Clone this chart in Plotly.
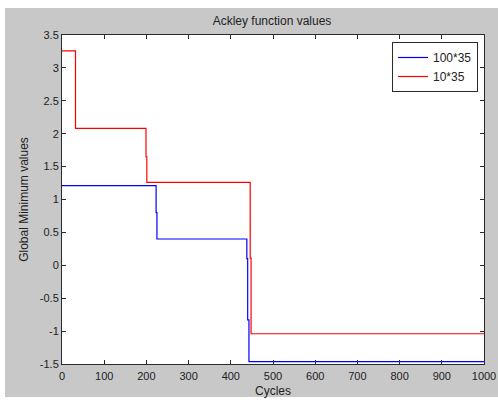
import plotly.graph_objects as go

# Data
red_x = [0, 32, 199, 201, 446, 448, 1000]
red_y = [3.26, 2.08, 1.65, 1.26, 0.11, -1.04, -1.04]
blue_x = [0, 223, 225, 438, 440, 443, 1000]
blue_y = [1.21, 0.80, 0.40, 0.10, -0.83, -1.465, -1.465]
x_ticks = list(range(0, 1001, 100))
y_ticks = [-1.5, -1, -0.5, 0, 0.5, 1, 1.5, 2, 2.5, 3, 3.5]
y_ticklabels = ["-1.5", "-1", "-0.5", "0", "0.5", "1", "1.5", "2", "2.5", "3", "3.5"]

W, H = 498, 400
SL, SR, ST, SB = 62, 484, 35, 364  # plot area in pixels
L, R, T, B = SL, W - SR, ST, H - SB
pw, ph = W - L - R, H - T - B

def px(sx):  # pixel x -> paper x
    return (sx - SL) / pw

def py(sy):  # pixel y -> paper y
    return (SB - sy) / ph

fig = go.Figure()
fig.add_trace(go.Scatter(x=blue_x, y=blue_y, mode="lines", name="100*35",
                         line=dict(color="#0000ff", width=1.2, shape="hv")))
fig.add_trace(go.Scatter(x=red_x, y=red_y, mode="lines", name="10*35",
                         line=dict(color="#ff0000", width=1.2, shape="hv")))

font = "Liberation Sans, Arial, sans-serif"
axis_common = dict(showgrid=False, zeroline=False, showline=True, linecolor="#2b2b2b",
                   linewidth=1, mirror="ticks", ticks="inside", ticklen=4, automargin=False,
                   tickcolor="#2b2b2b", tickfont=dict(family=font, size=11, color="#222"))

fig.update_layout(
    width=W, height=H,
    margin=dict(l=L, r=R, t=T, b=B, pad=0, autoexpand=False),
    paper_bgcolor="#c8c8c8",
    plot_bgcolor="#ffffff",
    title=dict(text="Ackley function values", x=272 / W, xanchor="center",
               y=1 - 21 / H, yanchor="middle", font=dict(family=font, size=12, color="#222")),
    xaxis=dict(range=[0, 1000], tickvals=x_ticks, ticklabelstandoff=2,
               title=dict(text="Cycles", standoff=5, font=dict(family=font, size=12, color="#222")),
               **axis_common),
    yaxis=dict(range=[-1.5, 3.5], tickvals=y_ticks, ticktext=y_ticklabels,
               title=dict(text="Global Minimum values", standoff=8, font=dict(family=font, size=12, color="#222")),
               **axis_common),
    legend=dict(x=px(478), y=py(42), xanchor="right", yanchor="top",
                bgcolor="#ffffff", bordercolor="#2b2b2b", borderwidth=1,
                font=dict(family=font, size=12, color="#222"), tracegroupgap=0),
    showlegend=True,
    shapes=[
        dict(type="rect", xref="paper", yref="paper", x0=px(-5), x1=px(W + 5), y0=py(8), y1=py(-5),
             fillcolor="#ffffff", line=dict(width=0), layer="below"),
        dict(type="rect", xref="paper", yref="paper", x0=px(-5), x1=px(5), y0=py(H + 5), y1=py(-5),
             fillcolor="#ffffff", line=dict(width=0), layer="below"),
        dict(type="rect", xref="paper", yref="paper", x0=px(-5), x1=px(W + 5), y0=py(H + 5), y1=py(397),
             fillcolor="#ffffff", line=dict(width=0), layer="below"),
    ],
)

fig.write_html("out.html")
